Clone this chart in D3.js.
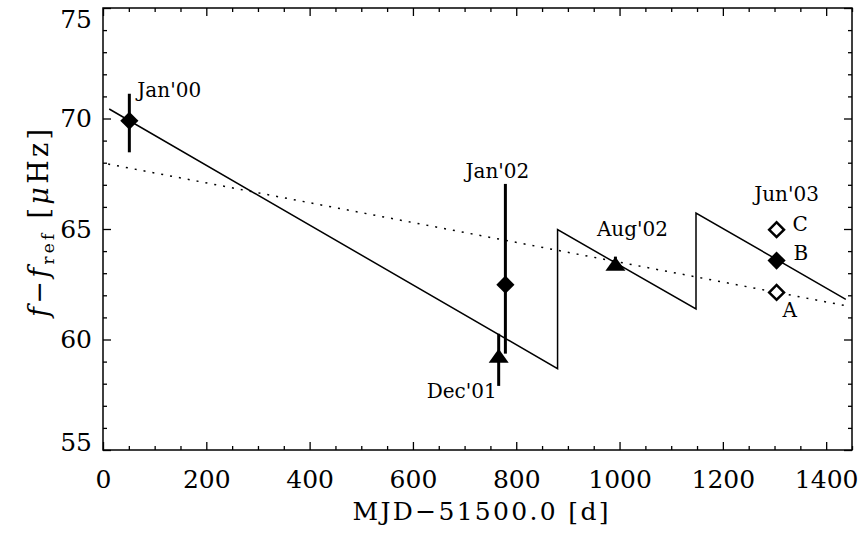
<!DOCTYPE html>
<html>
<head>
<meta charset="utf-8">
<script src="https://cdn.jsdelivr.net/npm/d3@7"></script>
<style>
  body { margin: 0; background: #fff; }
  svg { display: block; }
  text { font-family: "DejaVu Serif", serif; fill: #000; }
</style>
</head>
<body>
<svg id="chart"></svg>
<script>
// epochs: days since MJD 51500 and frequency offset (muHz)
var epochs = ["Jan'00", "Dec'01", "Jan'02", "Aug'02", "Jun'03"];
var epochDays = [51, 766, 779, 992, 1304];
var epochFreq = [69.9, 59.27, 62.48, 63.43, 63.57];
var epochLow = [68.47, 57.9, 59.36, 63.3, 63.57];
var epochHigh = [71.12, 60.26, 67.04, 63.75, 63.57];
var epochMarker = ["diamond", "triangle", "diamond", "triangle", "diamond"];

// Jun'03 solutions A, B, C (B = filled point above)
var solNames = ["A", "B", "C"];
var solDays = [1304, 1304, 1304];
var solFreq = [62.13, 63.57, 64.97];
var solOpen = [true, false, true];

// sawtooth model (solid) and linear trend (dotted)
var fitDays = [12, 880, 880, 1148, 1148, 1438];
var fitFreq = [70.43, 58.68, 64.97, 61.38, 65.72, 61.82];
var trendDays = [10, 1438];
var trendFreq = [67.94, 61.53];

var xTicks = [0, 200, 400, 600, 800, 1000, 1200, 1400];
var yTicks = [55, 60, 65, 70, 75];

// label offsets in px from their point
var epochLabelPos = [[8, -24, "start"], [-2, 42, "end"], [-8, -107, "middle"], [17, -28, "middle"], [10, -60, "middle"]];
var solLabelPos = [[6, 25, "start"], [17, -1, "start"], [16, 1, "start"]];

var W = 866, H = 535;
var margin = {top: 8, right: 14, bottom: 85, left: 103};
var width = W - margin.left - margin.right,
    height = H - margin.top - margin.bottom;

var svg = d3.select("#chart").attr("width", W).attr("height", H);
var g = svg.append("g").attr("transform", "translate(" + margin.left + "," + margin.top + ")");

var x = d3.scaleLinear().domain([0, 1450]).range([0, width]);
var y = d3.scaleLinear().domain([55, 75]).range([height, 0]);

var xMinor = d3.range(0, 1451, 50).filter(function(d) { return d % 200 !== 0; });
var yMinor = d3.range(55, 75.1, 1).filter(function(d) { return d % 5 !== 0; });

function styleAxis(sel) {
  sel.select(".domain").remove();
  sel.selectAll(".tick line").attr("stroke", "#000").attr("stroke-width", 1.3);
  sel.selectAll(".tick text").style("font-size", "25px").style("font-family", "'DejaVu Serif', serif");
}

// major + minor ticks on all four sides, all pointing inward
g.append("g").attr("transform", "translate(0," + height + ")")
  .call(d3.axisBottom(x).tickValues(xTicks).tickSize(-8).tickPadding(20).tickFormat(d3.format("d")))
  .call(styleAxis);
g.append("g").attr("transform", "translate(0," + height + ")")
  .call(d3.axisBottom(x).tickValues(xMinor).tickSize(-4).tickFormat(""))
  .call(styleAxis);
g.append("g")
  .call(d3.axisTop(x).tickValues(xTicks).tickSize(-8).tickFormat(""))
  .call(styleAxis);
g.append("g")
  .call(d3.axisTop(x).tickValues(xMinor).tickSize(-4).tickFormat(""))
  .call(styleAxis);

var yAxis = g.append("g")
  .call(d3.axisLeft(y).tickValues(yTicks).tickSize(-8).tickPadding(11).tickFormat(d3.format("d")))
  .call(styleAxis);
// end labels sit inside the frame height, like the original
yAxis.selectAll(".tick text")
  .attr("dy", function(d) { return d === 75 ? "0.76em" : d === 55 ? "0em" : "0.32em"; });
g.append("g")
  .call(d3.axisLeft(y).tickValues(yMinor).tickSize(-4).tickFormat(""))
  .call(styleAxis);
g.append("g").attr("transform", "translate(" + width + ",0)")
  .call(d3.axisRight(y).tickValues(yTicks).tickSize(-8).tickFormat(""))
  .call(styleAxis);
g.append("g").attr("transform", "translate(" + width + ",0)")
  .call(d3.axisRight(y).tickValues(yMinor).tickSize(-4).tickFormat(""))
  .call(styleAxis);

g.append("rect")
  .attr("width", width).attr("height", height)
  .attr("fill", "none").attr("stroke", "#000").attr("stroke-width", 1.5);

// lines
var line = d3.line().x(function(d) { return x(d[0]); }).y(function(d) { return y(d[1]); });

g.append("path")
  .datum(trendDays.map(function(d, i) { return [d, trendFreq[i]]; }))
  .attr("d", line)
  .attr("fill", "none").attr("stroke", "#000").attr("stroke-width", 1.5)
  .attr("stroke-dasharray", "2,7");

g.append("path")
  .datum(fitDays.map(function(d, i) { return [d, fitFreq[i]]; }))
  .attr("d", line)
  .attr("fill", "none").attr("stroke", "#000").attr("stroke-width", 1.5);

// markers
var flatTriangle = {
  draw: function(ctx, size) {
    var w = Math.sqrt(size * 20 / 14), h = size / w;
    ctx.moveTo(0, -h / 2);
    ctx.lineTo(w / 2, h / 2);
    ctx.lineTo(-w / 2, h / 2);
    ctx.closePath();
  }
};

var data = epochs.map(function(name, i) {
  return {name: name, day: epochDays[i], f: epochFreq[i], lo: epochLow[i], hi: epochHigh[i], marker: epochMarker[i]};
});

g.selectAll(".err")
  .data(data.filter(function(d) { return d.hi > d.lo; }))
  .enter().append("line")
  .attr("class", "err")
  .attr("x1", function(d) { return x(d.day); })
  .attr("x2", function(d) { return x(d.day); })
  .attr("y1", function(d) { return y(d.lo); })
  .attr("y2", function(d) { return y(d.hi); })
  .attr("stroke", "#000").attr("stroke-width", 3);

g.selectAll(".pt")
  .data(data)
  .enter().append("path")
  .attr("class", "pt")
  .attr("d", function(d) {
    return d.marker === "diamond"
      ? d3.symbol().type(d3.symbolSquare).size(165)()
      : d3.symbol().type(flatTriangle).size(280)();
  })
  .attr("transform", function(d) {
    return "translate(" + x(d.day) + "," + y(d.f) + ")" + (d.marker === "diamond" ? " rotate(45)" : "");
  })
  .attr("fill", "#000");

var sols = solNames.map(function(name, i) {
  return {name: name, day: solDays[i], f: solFreq[i], open: solOpen[i]};
});

g.selectAll(".sol")
  .data(sols.filter(function(d) { return d.open; }))
  .enter().append("path")
  .attr("class", "sol")
  .attr("d", d3.symbol().type(d3.symbolSquare).size(110)())
  .attr("transform", function(d) { return "translate(" + x(d.day) + "," + y(d.f) + ") rotate(45)"; })
  .attr("fill", "#fff").attr("stroke", "#000").attr("stroke-width", 2.5);

// labels
g.selectAll(".elab")
  .data(data)
  .enter().append("text")
  .attr("class", "elab")
  .attr("x", function(d, i) { return x(d.day) + epochLabelPos[i][0]; })
  .attr("y", function(d, i) { return y(d.f) + epochLabelPos[i][1]; })
  .attr("text-anchor", function(d, i) { return epochLabelPos[i][2]; })
  .style("font-size", "20px")
  .text(function(d) { return d.name; });

g.selectAll(".slab")
  .data(sols)
  .enter().append("text")
  .attr("class", "slab")
  .attr("x", function(d, i) { return x(d.day) + solLabelPos[i][0]; })
  .attr("y", function(d, i) { return y(d.f) + solLabelPos[i][1]; })
  .attr("text-anchor", function(d, i) { return solLabelPos[i][2]; })
  .style("font-size", "20px")
  .text(function(d) { return d.name; });

// axis titles
svg.append("text")
  .attr("x", margin.left + width / 2 + 3)
  .attr("y", 520)
  .attr("text-anchor", "middle")
  .attr("textLength", 256)
  .style("font-size", "25px")
  .text("MJD\u221251500.0 [d]");

var yt = svg.append("text")
  .attr("transform", "translate(48," + (margin.top + height / 2 - 6) + ") rotate(-90)")
  .attr("text-anchor", "middle")
  .attr("textLength", 188)
  .style("font-size", "27px");
yt.append("tspan").style("font-style", "italic").text("f");
yt.append("tspan").text("\u2212");
yt.append("tspan").style("font-style", "italic").text("f");
yt.append("tspan").attr("dy", 6).style("font-size", "17px").text("ref");
yt.append("tspan").attr("dy", -6).text(" [");
yt.append("tspan").style("font-style", "italic").text("\u03bc");
yt.append("tspan").text("Hz]");
</script>
</body>
</html>
